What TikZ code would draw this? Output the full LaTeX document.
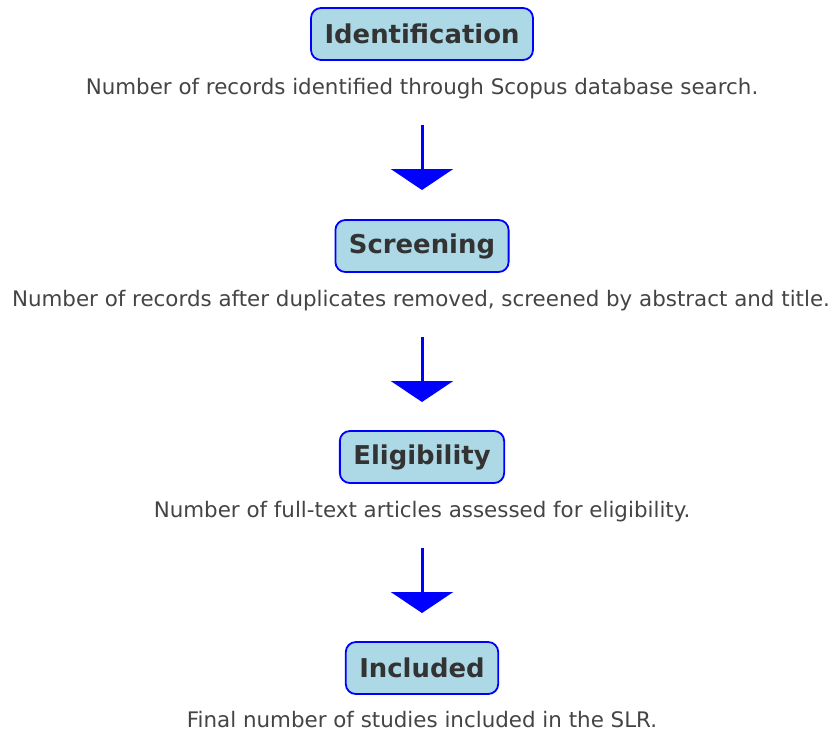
\documentclass[tikz,border=0pt]{standalone}
\usepackage{fontspec}
\setmainfont{DejaVu Sans}
\usetikzlibrary{arrows.meta}
\definecolor{boxfill}{HTML}{ADD8E6}
\definecolor{txt}{HTML}{333333}
\definecolor{dtxt}{HTML}{444444}
\begin{document}
\begin{tikzpicture}[x=1pt,y=-1pt,
  stage/.style={draw=blue, line width=1.8pt, fill=boxfill, rounded corners=10pt,
    minimum height=52pt, inner xsep=13.5pt, text=txt,
    font=\fontsize{25.9}{30}\selectfont\bfseries},
  desc/.style={text=dtxt, font=\fontsize{21.4}{25}\selectfont, inner sep=0pt, anchor=base},
  arr/.style={draw=blue, line width=3pt, -{Triangle[width=62pt,length=21pt]}}]
\useasboundingbox (0,0) rectangle (832,732);
\node[stage] (b1) at (422,34) {Identification};
\node[desc] (d1) at (422,94.5) {Number of records identified through Scopus database search.};
\node[stage] (b2) at (422,246) {Screening};
\node[desc] (d2) at (421,306) {Number of records after duplicates removed, screened by abstract and title.};
\node[stage] (b3) at (422,457) {Eligibility};
\node[desc] (d3) at (422,517.5) {Number of full-text articles assessed for eligibility.};
\node[stage] (b4) at (422,668) {Included};
\node[desc] (d4) at (422,727) {Final number of studies included in the SLR.};
\coordinate (a1s) at (422,125); \coordinate (a1e) at (422,190);
\coordinate (a2s) at (422,337); \coordinate (a2e) at (422,402);
\coordinate (a3s) at (422,548); \coordinate (a3e) at (422,613);
\draw[arr] (a1s) -- (a1e);
\draw[arr] (a2s) -- (a2e);
\draw[arr] (a3s) -- (a3e);
\end{tikzpicture}
\end{document}
